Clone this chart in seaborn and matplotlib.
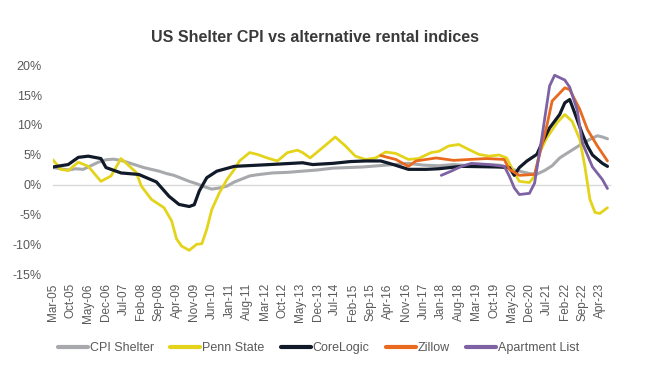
import pandas as pd
import matplotlib
matplotlib.use('Agg')
import matplotlib.pyplot as plt
import matplotlib.dates as mdates
from matplotlib.ticker import PercentFormatter
import seaborn as sns

# YoY % change
cpi_dates = ['2005-03', '2005-06', '2005-09', '2005-12', '2006-03', '2006-06', '2006-09', '2006-12',
             '2007-03', '2007-06', '2007-09', '2007-12', '2008-03', '2008-06', '2008-09', '2008-12',
             '2009-03', '2009-06', '2009-09', '2009-12', '2010-03', '2010-06', '2010-09', '2010-12',
             '2011-03', '2011-06', '2011-09', '2011-12', '2012-06', '2012-12', '2013-06', '2013-12',
             '2014-06', '2014-12', '2015-06', '2015-12', '2016-06', '2016-12', '2017-06', '2017-12',
             '2018-06', '2018-12', '2019-06', '2019-12', '2020-03', '2020-06', '2020-09', '2020-12',
             '2021-03', '2021-06', '2021-09', '2021-12', '2022-03', '2022-06', '2022-09', '2022-12',
             '2023-03', '2023-05', '2023-07']
cpi_vals = [2.9, 2.7, 2.5, 2.7, 2.6, 3.2, 3.8, 4.2,
            4.3, 4.1, 3.7, 3.3, 2.9, 2.6, 2.3, 1.9,
            1.6, 1.1, 0.6, 0.2, -0.3, -0.7, -0.5, -0.2,
            0.5, 1.0, 1.5, 1.7, 2.0, 2.1, 2.3, 2.5,
            2.8, 2.9, 3.0, 3.2, 3.4, 3.6, 3.3, 3.2,
            3.4, 3.2, 3.4, 3.3, 3.0, 2.5, 2.2, 1.9,
            1.8, 2.4, 3.2, 4.5, 5.3, 6.1, 6.9, 7.6,
            8.2, 8.0, 7.7]

penn_dates = ['2005-03', '2005-06', '2005-09', '2006-01', '2006-05', '2006-10', '2007-02', '2007-06',
              '2007-12', '2008-02', '2008-06', '2008-11', '2009-02', '2009-04', '2009-06', '2009-09',
              '2009-12', '2010-02', '2010-04', '2010-06', '2010-09', '2010-12', '2011-03', '2011-05',
              '2011-09', '2011-12', '2012-04', '2012-08', '2012-12', '2013-04', '2013-06', '2013-09',
              '2014-01', '2014-07', '2014-11', '2015-03', '2015-07', '2015-11', '2016-03', '2016-07',
              '2016-12', '2017-04', '2017-09', '2017-12', '2018-04', '2018-08', '2018-12', '2019-04',
              '2019-08', '2019-12', '2020-03', '2020-06', '2020-08', '2020-12', '2021-02', '2021-04',
              '2021-07', '2021-11', '2022-02', '2022-05', '2022-08', '2022-10', '2022-12', '2023-02',
              '2023-04', '2023-07']
penn_vals = [4.2, 2.6, 2.4, 3.8, 3.1, 0.6, 1.5, 4.4,
             2.1, -0.2, -2.4, -3.8, -6.0, -9.0, -10.2, -10.9,
             -9.9, -9.8, -7.4, -4.1, -1.3, 0.9, 2.6, 4.0,
             5.4, 5.1, 4.5, 4.0, 5.4, 5.8, 5.4, 4.5,
             5.9, 8.0, 6.5, 4.8, 4.25, 4.5, 5.5, 5.25,
             4.25, 4.4, 5.4, 5.6, 6.5, 6.75, 5.9, 5.1,
             4.8, 5.0, 4.5, 2.0, 0.6, 0.4, 1.5, 5.4,
             7.9, 10.4, 11.75, 10.6, 7.6, 3.1, -2.4, -4.6,
             -4.75, -3.8]

core_dates = ['2005-03', '2005-09', '2006-01', '2006-05', '2006-10', '2006-12', '2007-06', '2008-01',
              '2008-08', '2009-01', '2009-05', '2009-09', '2009-11', '2010-01', '2010-04', '2010-08',
              '2011-03', '2012-05', '2013-06', '2013-10', '2014-06', '2015-01', '2015-07', '2016-01',
              '2016-06', '2016-12', '2017-07', '2017-12', '2018-09', '2019-11', '2020-04', '2020-06',
              '2020-08', '2020-11', '2021-03', '2021-05', '2021-08', '2021-11', '2021-12', '2022-02',
              '2022-04', '2022-06', '2022-09', '2022-11', '2023-01', '2023-03', '2023-05', '2023-07']
core_vals = [3.0, 3.4, 4.6, 4.8, 4.4, 2.9, 2.0, 1.75,
             0.5, -1.9, -3.25, -3.6, -3.3, -1.0, 1.2, 2.3,
             3.1, 3.4, 3.7, 3.4, 3.6, 3.9, 4.0, 4.0,
             3.4, 2.6, 2.6, 2.7, 3.1, 3.0, 2.9, 1.6,
             2.9, 4.0, 5.1, 7.0, 9.5, 11.2, 11.75, 13.7,
             14.25, 12.0, 8.5, 6.5, 5.0, 4.3, 3.6, 3.1]

zillow_dates = ['2016-01', '2016-07', '2016-12', '2017-03', '2017-11', '2018-06', '2018-12', '2019-07',
                '2020-02', '2020-04', '2020-08', '2021-02', '2021-04', '2021-07', '2021-09', '2022-02',
                '2022-04', '2022-08', '2022-11', '2023-03', '2023-07']
zillow_vals = [4.9, 4.25, 3.1, 4.0, 4.5, 4.1, 4.25, 4.4,
               4.25, 2.6, 1.6, 1.75, 5.0, 10.0, 14.0, 16.2,
               15.9, 12.6, 9.25, 6.5, 4.0]

apt_dates = ['2018-01', '2018-05', '2018-09', '2019-01', '2019-08', '2020-02', '2020-04', '2020-06',
             '2020-08', '2020-12', '2021-02', '2021-05', '2021-08', '2021-10', '2022-02', '2022-04',
             '2022-07', '2022-09', '2023-01', '2023-05', '2023-07']
apt_vals = [1.6, 2.3, 3.1, 3.6, 3.4, 3.1, 1.5, -0.5,
            -1.6, -1.4, 0.3, 8.0, 16.5, 18.3, 17.5, 16.3,
            12.5, 7.0, 3.0, 0.9, -0.6]

names = ['CPI Shelter', 'Penn State', 'CoreLogic', 'Zillow', 'Apartment List']
colors = ['#a7a9ac', '#e3d41b', '#111a28', '#e9691f', '#7e62a3']
widths = [2.2, 2.0, 2.3, 2.0, 2.0]

sns.set_style('white')
plt.rcParams['font.family'] = ['Liberation Sans', 'DejaVu Sans']
plt.rcParams['axes.unicode_minus'] = False

fig = plt.figure(figsize=(6.5, 3.76), dpi=100)
ax = fig.add_axes([0.0815, 0.269, 0.857, 0.558])

all_series = [(cpi_dates, cpi_vals), (penn_dates, penn_vals), (core_dates, core_vals),
              (zillow_dates, zillow_vals), (apt_dates, apt_vals)]
for (d, v), name, c, lw in zip(all_series, names, colors, widths):
    tmp = pd.DataFrame({'date': pd.to_datetime(d), 'value': v})
    sns.lineplot(data=tmp, x='date', y='value', color=c, linewidth=lw, label=name,
                 estimator=None, ax=ax)

# axes
ax.set_xlim(pd.Timestamp('2005-03-01'), pd.Timestamp('2023-08-01'))
ax.set_ylim(-15, 20)
ax.set_yticks(range(-15, 25, 5))
ax.yaxis.set_major_formatter(PercentFormatter(decimals=0))
ax.set_xlabel('')
ax.set_ylabel('')
for s in ['top', 'right', 'left']:
    ax.spines[s].set_visible(False)
ax.spines['bottom'].set_position(('data', 0))
ax.spines['bottom'].set_color('#d9d9d9')
ax.spines['bottom'].set_linewidth(1)
ax.spines['bottom'].set_zorder(0)

ticks = mdates.date2num(pd.date_range('2005-03-01', '2023-07-01', freq='7MS'))
ax.set_xticks(ticks)
ax.tick_params(axis='x', direction='out', length=3, width=1, color='#d9d9d9', labelbottom=False)
ax.tick_params(axis='y', length=0, labelsize=9, labelcolor='#595959', pad=8)

# tick labels sit at the bottom, below the plot
sec = ax.secondary_xaxis('bottom')
sec.set_xticks(ticks)
sec.xaxis.set_major_formatter(mdates.DateFormatter('%b-%y'))
sec.tick_params(length=0, labelsize=8.5, labelcolor='#595959', labelrotation=90, pad=6)
sec.spines['bottom'].set_visible(False)

ax.set_title('')
fig.text(0.485, 0.899, 'US Shelter CPI vs alternative rental indices', ha='center', va='center',
         fontsize=11.5, fontweight='bold', color='#3a3a3a')

ax.get_legend().remove()
handles, labels = ax.get_legend_handles_labels()
leg = fig.legend(handles, labels, loc='center', bbox_to_anchor=(0.49, 0.074), ncol=5, frameon=False,
                 fontsize=9, handlelength=2.4, handletextpad=0.15, columnspacing=1.3)
for t in leg.get_texts():
    t.set_color('#595959')
for l in leg.get_lines():
    l.set_linewidth(3)

plt.savefig('out.png', dpi=100)
